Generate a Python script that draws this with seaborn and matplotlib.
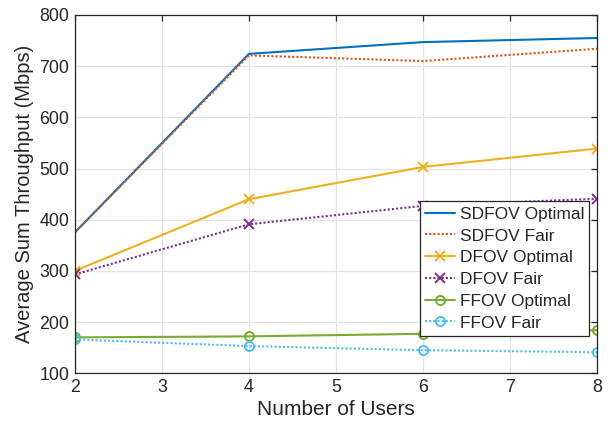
import matplotlib
matplotlib.use("Agg")
import matplotlib.pyplot as plt
import seaborn as sns
import pandas as pd

users = [2, 4, 6, 8]
sdfov_optimal = [375, 724, 747, 755]
sdfov_fair = [375, 721, 710, 734]
dfov_optimal = [300, 440, 503, 539]
dfov_fair = [293, 391, 427, 441]
ffov_optimal = [170, 172, 177, 184]
ffov_fair = [166, 153, 145, 141]

series_names = ["SDFOV Optimal", "SDFOV Fair", "DFOV Optimal",
                "DFOV Fair", "FFOV Optimal", "FFOV Fair"]
series_values = [sdfov_optimal, sdfov_fair, dfov_optimal,
                 dfov_fair, ffov_optimal, ffov_fair]
colors = ["#0072BD", "#D95319", "#EDB120", "#7E2F8E", "#77AC30", "#4DBEEE"]
linestyles = ["-", (0, (1, 1)), "-", (0, (1, 1)), "-", (0, (1, 1))]
markers = [None, None, "x", "x", "o", "o"]

sns.set_style("white")
plt.rcParams["font.family"] = ["Liberation Sans", "DejaVu Sans"]

fig = plt.figure(figsize=(6.13, 4.28), dpi=100)
ax = fig.add_axes([0.122, 0.128, 0.852, 0.837])

for name, vals, c, ls, mk in zip(series_names, series_values, colors, linestyles, markers):
    df = pd.DataFrame({"Users": users, "Throughput": vals})
    kw = {}
    if mk is not None:
        kw = dict(marker=mk, markersize=6.5, markeredgewidth=1.4,
                  markeredgecolor=c, markerfacecolor="none")
    sns.lineplot(data=df, x="Users", y="Throughput", ax=ax, color=c,
                 linestyle=ls, linewidth=1.5, label=name, **kw)

ax.set_xlim(2, 8)
ax.set_ylim(100, 800)
ax.set_xticks(range(2, 9))
ax.set_yticks(range(100, 801, 100))
ax.grid(True, color="#e3e3e3", linewidth=0.9)
ax.set_axisbelow(True)
for s in ax.spines.values():
    s.set_visible(True)
    s.set_color("#262626")
    s.set_linewidth(0.9)
ax.tick_params(direction="in", length=4, width=0.9, colors="#262626",
               labelsize=12.8, top=True, right=True, pad=4)
ax.set_xlabel("Number of Users", fontsize=15, color="#262626", labelpad=3)
ax.set_ylabel("Average Sum Throughput (Mbps)", fontsize=14.5, color="#262626", labelpad=4)

leg = ax.legend(loc="lower right", bbox_to_anchor=(0.992, 0.095), fontsize=12.5,
                frameon=True, fancybox=False, edgecolor="#262626",
                framealpha=1, handlelength=1.75, borderpad=0.3,
                labelspacing=0.38, handletextpad=0.25, borderaxespad=0.2)
leg.get_frame().set_linewidth(0.9)

fig.savefig("out.png", dpi=100)
